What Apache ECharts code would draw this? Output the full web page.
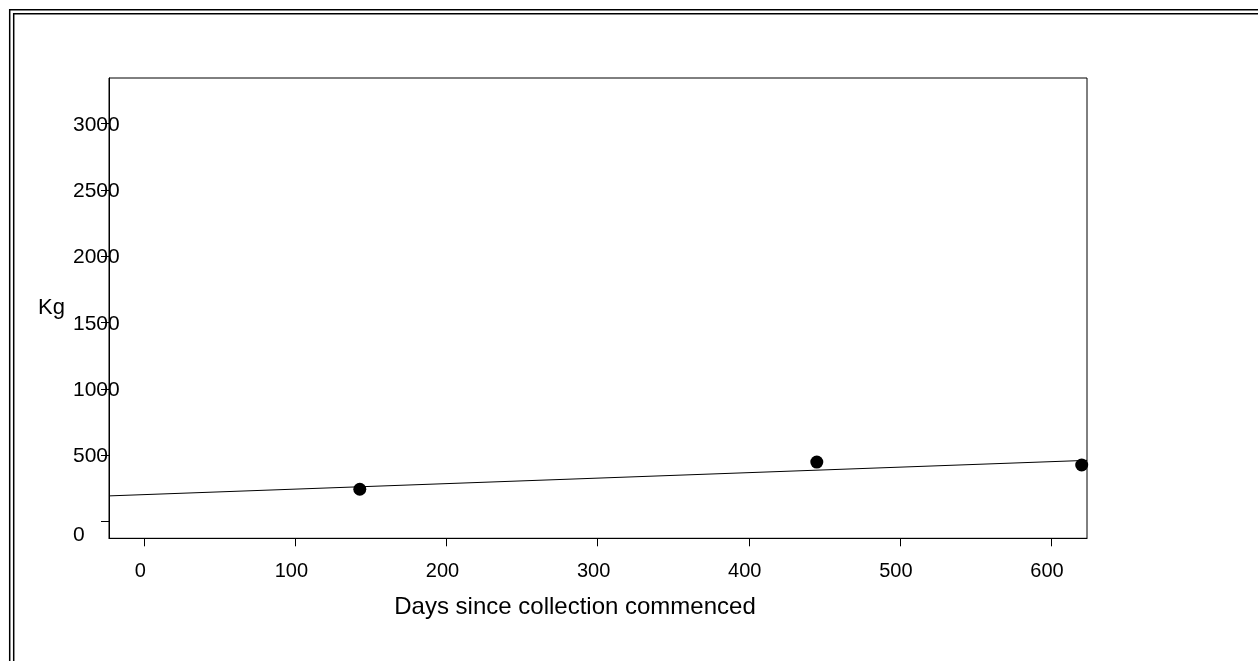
<!DOCTYPE html>
<html>
<head>
<meta charset="utf-8">
<script src="https://cdn.jsdelivr.net/npm/echarts@6/dist/echarts.min.js"></script>
<style>
html,body{margin:0;padding:0;background:#fff;}
#chart{width:1258px;height:661px;}
</style>
</head>
<body>
<div id="chart"></div>
<script>
// Data
const xTicks = [0, 100, 200, 300, 400, 500, 600];
const yTicks = [0, 500, 1000, 1500, 2000, 2500, 3000];
const days = [142.6, 445, 620.3];
const kg = [243, 448, 426];
const fitDays = [-23.35, 623.8];
const fitKg = [193, 461];
const xLabel = 'Days since collection commenced';
const yLabel = 'Kg';

const points = days.map((d, i) => [d, kg[i]]);
const fitLine = fitDays.map((d, i) => [d, fitKg[i]]);

const FONT = 'Liberation Sans, Arial, sans-serif';
const chart = echarts.init(document.getElementById('chart'), null, {renderer: 'canvas'});
chart.setOption({
  animation: false,
  backgroundColor: '#fff',
  graphic: [
    {type: 'rect', shape: {x: 9.7, y: 9.7, width: 1400, height: 800}, style: {fill: 'none', stroke: '#000', lineWidth: 1.5}},
    {type: 'rect', shape: {x: 13.7, y: 13.7, width: 1400, height: 800}, style: {fill: 'none', stroke: '#000', lineWidth: 1.5}}
  ],
  grid: {
    left: 109, top: 78, width: 978, height: 460.3,
    show: true, borderColor: '#000', borderWidth: 1, backgroundColor: 'transparent'
  },
  xAxis: {
    type: 'value',
    min: -23.35, max: 623.8,
    splitLine: {show: false},
    axisLine: {show: true, onZero: false, lineStyle: {color: '#000', width: 1}},
    axisTick: {show: true, inside: false, length: 8, customValues: xTicks, lineStyle: {color: '#000'}},
    axisLabel: {
      customValues: xTicks, margin: 23, color: '#000', fontSize: 20, fontFamily: FONT,
      padding: [0, 8, 0, 0]
    },
    name: xLabel,
    nameLocation: 'middle',
    nameGap: 57,
    nameTextStyle: {color: '#000', fontSize: 24, fontFamily: FONT, padding: [0, 46, 0, 0]}
  },
  yAxis: {
    type: 'value',
    min: -126.6, max: 3343,
    splitLine: {show: false},
    axisLine: {show: true, onZero: false, lineStyle: {color: '#000', width: 1}},
    axisTick: {show: true, inside: false, length: 8, customValues: yTicks, lineStyle: {color: '#000'}},
    axisLabel: {
      customValues: yTicks, margin: 36, align: 'left', color: '#000', fontSize: 21, fontFamily: FONT,
      padding: [3, 0, 0, 0],
      formatter: v => v === 0 ? '{z|0}' : String(v),
      rich: {z: {color: '#000', fontSize: 21, fontFamily: FONT, padding: [24, 0, 0, 0]}}
    },
    name: yLabel,
    nameLocation: 'middle',
    nameRotate: 0,
    nameGap: 44,
    nameTextStyle: {color: '#000', fontSize: 22, fontFamily: FONT, padding: [0, 0, 6, 0]}
  },
  series: [
    {
      type: 'line', data: fitLine, showSymbol: false, symbol: 'none',
      lineStyle: {color: '#000', width: 1}, silent: true, clip: true
    },
    {
      type: 'scatter', data: points, symbol: 'circle', symbolSize: 13,
      itemStyle: {color: '#000', opacity: 1}, clip: false
    }
  ]
});
</script>
</body>
</html>
